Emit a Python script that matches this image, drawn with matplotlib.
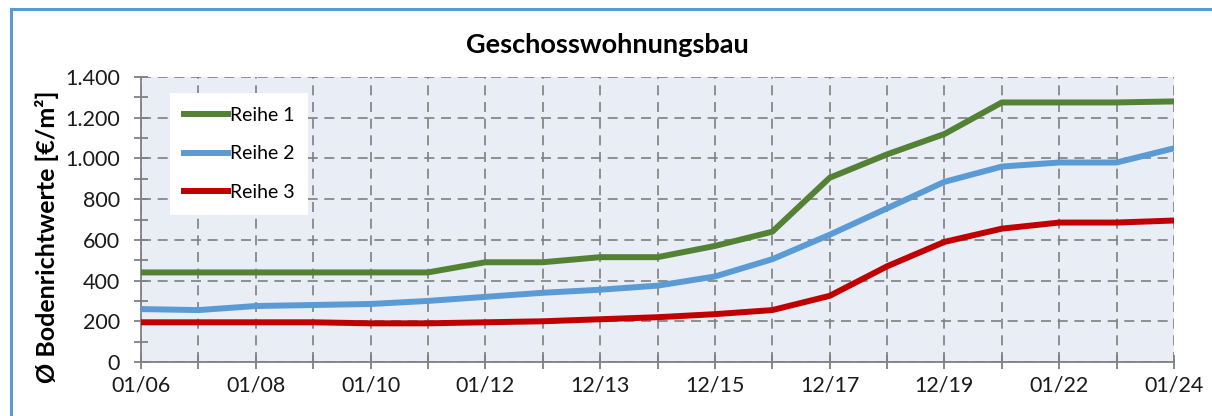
import matplotlib.pyplot as plt
from matplotlib.lines import Line2D
from matplotlib.ticker import FuncFormatter, MultipleLocator

plt.rcParams['font.family'] = ['Lato', 'DejaVu Sans']

# 19 Stichtage, nur jeder zweite beschriftet
n_points = 19
tick_labels = ['01/06', '01/08', '01/10', '01/12', '12/13',
               '12/15', '12/17', '12/19', '01/22', '01/24']

reihe1 = [440, 440, 440, 440, 440, 440, 490, 490, 515, 515,
          570, 640, 905, 1020, 1120, 1275, 1275, 1275, 1280]
reihe2 = [260, 255, 275, 280, 285, 300, 320, 340, 355, 375,
          420, 505, 625, 755, 885, 960, 980, 980, 1050]
reihe3 = [195, 195, 195, 195, 190, 190, 195, 200, 210, 220,
          235, 255, 325, 470, 590, 655, 685, 685, 695]

x = list(range(n_points))

fig = plt.figure(figsize=(12.12, 4.16), dpi=100)
ax = fig.add_axes([141 / 1212, 1 - 362 / 416, 1033 / 1212, 285 / 416])
ax.set_facecolor('#e9edf6')

ax.plot(x, reihe1, color='#548235', lw=4.3, label='Reihe 1', zorder=3)
ax.plot(x, reihe2, color='#5b9bd5', lw=4.3, label='Reihe 2', zorder=3)
ax.plot(x, reihe3, color='#c00000', lw=4.3, label='Reihe 3', zorder=3)

ax.set_xlim(0, n_points - 1)
ax.set_ylim(0, 1400)
ax.set_xticks(x)
ax.set_xticklabels([tick_labels[i // 2] if i % 2 == 0 else '' for i in x])
ax.yaxis.set_major_locator(MultipleLocator(200))
ax.yaxis.set_minor_locator(MultipleLocator(100))
ax.yaxis.set_major_formatter(FuncFormatter(lambda v, p: f'{int(v):,}'.replace(',', '.')))

ax.grid(True, which='major', color='#7f7f7f', ls=(0, (6, 4)), lw=1.2, zorder=1)
ax.set_axisbelow(True)
for s in ['top', 'right']:
    ax.spines[s].set_visible(False)
for s in ['left', 'bottom']:
    ax.spines[s].set_color('#808080')
    ax.spines[s].set_linewidth(1.3)

ax.tick_params(axis='both', which='both', direction='inout', color='#808080', width=1.3)
ax.tick_params(axis='both', which='major', length=10, labelsize=15.5, labelcolor='#1a1a1a')
ax.tick_params(axis='y', which='minor', length=10)
ax.tick_params(axis='x', pad=5)
ax.tick_params(axis='y', pad=10)

fig.text(607 / 1212, 1 - 45 / 416, 'Geschosswohnungsbau', fontsize=19.5,
         fontweight='bold', ha='center', va='center')
ax.set_ylabel('Ø Bodenrichtwerte [€/m²]', fontsize=18, fontweight='bold')
ax.yaxis.set_label_coords(-82 / 1033, 0.44)

leg = ax.legend(loc='upper left', bbox_to_anchor=(0.028, 0.944), fontsize=14,
                frameon=True, fancybox=False, edgecolor='white', framealpha=1,
                handlelength=2.3, handletextpad=0.1, labelspacing=1.12,
                borderpad=0.7, borderaxespad=0)
leg.get_frame().set_linewidth(0)

# blauer Rahmen des Diagrammbereichs
fig.add_artist(Line2D([11 / 1212, 1], [1 - 9 / 416, 1 - 9 / 416], color='#5b9bd5', lw=2.2))
fig.add_artist(Line2D([11 / 1212, 11 / 1212], [0, 1 - 9 / 416], color='#5b9bd5', lw=2.2))

fig.savefig('out.png', dpi=100)
